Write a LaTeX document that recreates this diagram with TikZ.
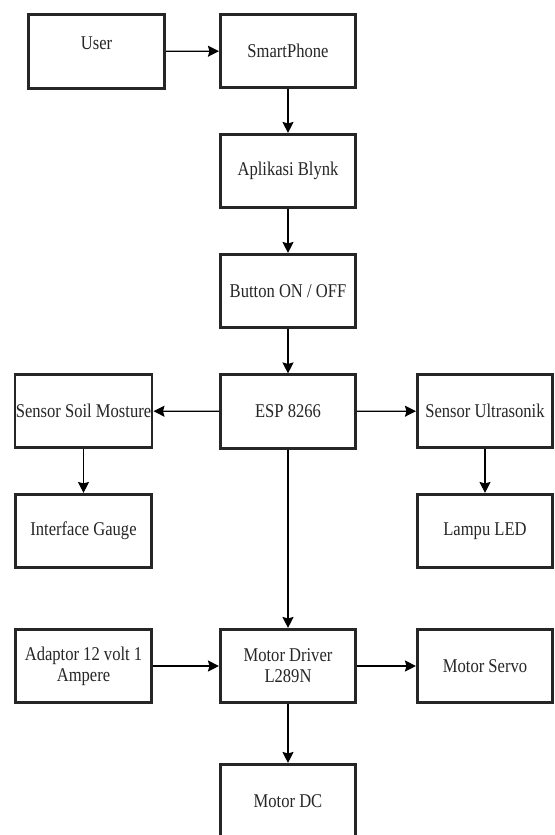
\documentclass[tikz,border=0pt]{standalone}
\usepackage{fontspec}
\setmainfont{Liberation Serif}[FakeStretch=0.85]
\usetikzlibrary{arrows.meta}
\begin{document}
\begin{tikzpicture}[x=1pt,y=-1pt,
  blk/.style={draw=black!85, line width=2.6pt, fill=white, minimum width=135.5pt, minimum height=73.5pt,
    inner sep=1pt, align=center, text=black!85, font=\fontsize{19.5}{21}\selectfont},
  conn/.style={draw=black, line width=1.3pt, -{Stealth[length=11pt,width=11pt,inset=1.5pt]}}]
\useasboundingbox (0,0) rectangle (554,835);
\node[blk, minimum width=136.5pt] (user) at (96.5,51.5) {\raisebox{17pt}{User}};
\node[blk] (phone) at (288,51) {SmartPhone};
\node[blk] (blynk) at (288,171) {Aplikasi Blynk};
\node[blk] (button) at (288,291) {Button ON / OFF};
\node[blk] (esp) at (288,411.5) {ESP 8266};
\node[blk, minimum width=136.5pt] (soil) at (83.5,411) {Sensor Soil Mosture};
\node[blk] (ultra) at (485,411) {Sensor Ultrasonik};
\node[blk, minimum width=136.5pt] (gauge) at (83.5,531) {Interface Gauge};
\node[blk] (led) at (485,531) {Lampu LED};
\node[blk, minimum width=136.5pt] (adaptor) at (83.5,666) {Adaptor 12 volt 1\\Ampere};
\node[blk] (driver) at (288,666) {Motor Driver\\L289N};
\node[blk] (servo) at (485,666) {Motor Servo};
\node[blk] (dc) at (288,801) {Motor DC};
\draw[conn] (user) -- (phone);
\draw[conn] (phone) -- (blynk);
\draw[conn] (blynk) -- (button);
\draw[conn] (button) -- (esp);
\draw[conn] (esp) -- (soil);
\draw[conn] (esp) -- (ultra);
\draw[conn] (soil) -- (gauge);
\draw[conn] (ultra) -- (led);
\draw[conn] (esp) -- (driver);
\draw[conn] (adaptor) -- (driver);
\draw[conn] (driver) -- (servo);
\draw[conn] (driver) -- (dc);
\end{tikzpicture}
\end{document}
